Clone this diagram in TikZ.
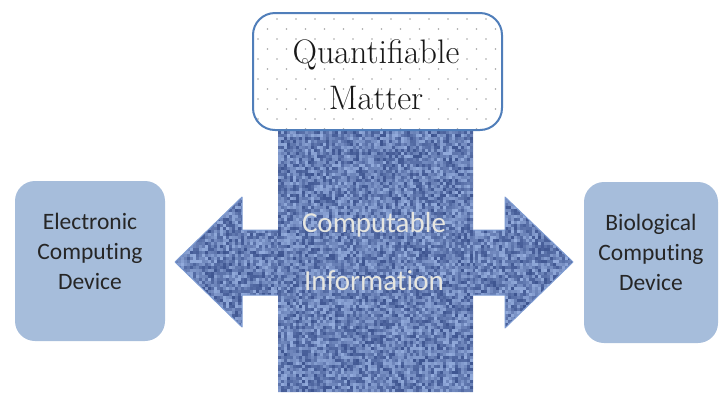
\documentclass[tikz,border=0pt]{standalone}
\usepackage{fontspec}
\newfontfamily\calibri[Ligatures=NoCommon]{Carlito}
\usepackage{tikz}
\usetikzlibrary{calc}
\definecolor{devicefill}{RGB}{166,189,219}
\definecolor{devicetext}{RGB}{38,38,38}
\definecolor{matteredge}{RGB}{80,126,186}
\definecolor{weavedark}{RGB}{44,66,128}
\definecolor{weavelight}{RGB}{165,190,236}
\definecolor{weaveedge}{RGB}{125,155,210}
\definecolor{infotext}{RGB}{230,230,224}
% random woven cells over [#1,#2] x [#3,#4], cell size 3
\newcommand{\weave}[4]{
	\foreach \x in {#1,\the\numexpr#1+3\relax,...,#2}
	\foreach \y in {#3,\the\numexpr#3+3\relax,...,#4}{
		\pgfmathrandominteger{\mix}{15}{85}
		\fill[weavelight!\mix!weavedark] (\x,\y) rectangle ++(3,3);
	}
}
\tikzset{
	device/.style={draw=none, fill=devicefill, rounded corners=20pt},
	devicelabel/.style={align=center, text=devicetext, font=\calibri\fontsize{23.5}{30}\selectfont},
	infolabel/.style={text=infotext, font=\calibri\fontsize{29}{30}\selectfont},
	matter/.style={draw=matteredge, line width=2pt, rounded corners=22pt},
}

\begin{document}
\begin{tikzpicture}[x=1pt,y=-1pt]
	\useasboundingbox (0,0) rectangle (721,392);
	\pgfmathsetseed{11}

	% double arrow through the information column
	\coordinate (Ltip) at (175,262);
	\coordinate (Rtip) at (573,262);
	\coordinate (colTL) at (278,131);
	\coordinate (colBR) at (473,392);
	\begin{scope}
	\path[clip] (Ltip) -- (242,197) -- (242,230) -- (278,230) -- (colTL) -- (473,131)
		-- (473,230) -- (505,230) -- (505,197) -- (Rtip) -- (505,328) -- (505,295)
		-- (473,295) -- (colBR) -- (278,392) -- (278,295) -- (242,295) -- (242,327) -- cycle;
	\weave{275}{475}{128}{392}
	\weave{172}{275}{194}{329}
	\weave{475}{575}{194}{329}
	\end{scope}
	\draw[weaveedge, line width=1pt, line join=round] (Ltip) -- (242,197) -- (242,230) -- (278,230);
	\draw[weaveedge, line width=1pt, line join=round] (278,295) -- (242,295) -- (242,327) -- (Ltip);
	\draw[weaveedge, line width=1pt, line join=round] (473,230) -- (505,230) -- (505,197) -- (Rtip);
	\draw[weaveedge, line width=1pt, line join=round] (Rtip) -- (505,328) -- (505,295) -- (473,295);

	\node[infolabel] (compute) at (374,225) {Computable};
	\node[infolabel] (info) at (374,281) {Information};

	% matter box with dotted fill
	\fill[white, rounded corners=22pt] (253,13) rectangle (502,130);
	\begin{scope}
	\clip[rounded corners=22pt] (253,13) rectangle (502,130);
	\foreach \r in {0,...,11}{
		\pgfmathsetmacro{\off}{mod(\r,2)*9.5}
		\foreach \c in {0,...,13}
			\fill[gray!70] (258+\off+19*\c,19+10*\r) circle (0.8);
	}
	\end{scope}
	\node[matter, minimum width=249pt, minimum height=117pt] (matter) at (377.5,71.5) {};
	\node[align=center, font=\fontsize{34}{46}\selectfont, text=black!90] (mattertext) at (376,75) {Quantifiable\\Matter};

	% the two devices
	\node[device, minimum width=150pt, minimum height=160pt] (elec) at (90,261) {};
	\node[devicelabel] (electext) at (90,251) {Electronic\\Computing\\Device};
	\node[device, minimum width=134pt, minimum height=161pt] (bio) at (651,262.5) {};
	\node[devicelabel] (biotext) at (651,252) {Biological\\Computing\\Device};
\end{tikzpicture}
\end{document}
